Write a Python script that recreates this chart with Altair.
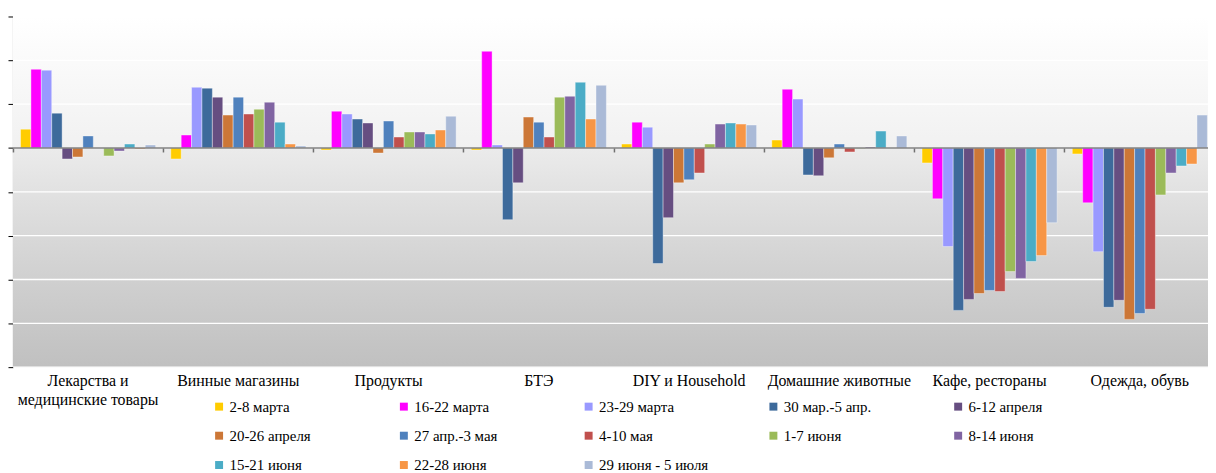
import altair as alt
import pandas as pd

categories = ["Лекарства и медицинские товары", "Винные магазины", "Продукты", "БТЭ",
              "DIY и Household", "Домашние животные", "Кафе, рестораны", "Одежда, обувь"]
series = ["2-8 марта", "16-22 марта", "23-29 марта", "30 мар.-5 апр.", "6-12 апреля",
          "20-26 апреля", "27 апр.-3 мая", "4-10 мая", "1-7 июня", "8-14 июня",
          "15-21 июня", "22-28 июня", "29 июня - 5 июля"]
colors = ["#FFCC00", "#FF00FF", "#9999FF", "#3D6A9B", "#664E81", "#CC7737", "#4F81BD",
          "#C0504D", "#9BBB59", "#8064A2", "#4BACC6", "#F79646", "#AABAD7"]

vals_lek = [8.6, 35.9, 35.5, 15.9, -5.0, -4.1, 5.5, 0.0, -3.6, -1.4, 1.8, -0.5, 1.4]
vals_vino = [-5.0, 5.9, 27.7, 27.3, 23.2, 15.0, 23.2, 15.5, 17.7, 20.9, 11.8, 1.8, 0.9]
vals_prod = [-0.9, 16.8, 15.5, 13.2, 11.4, -2.3, 12.3, 5.0, 7.3, 7.3, 6.4, 8.2, 14.5]
vals_bte = [-0.9, 44.1, 1.4, -32.7, -15.9, 14.1, 11.8, 5.0, 23.2, 23.6, 30.0, 13.2, 28.6]
vals_diy = [1.8, 11.8, 9.5, -52.7, -31.8, -15.9, -14.5, -11.4, 1.8, 10.9, 11.4, 10.9, 10.5]
vals_pets = [3.6, 26.8, 22.3, -12.3, -12.7, -4.5, 1.8, -1.8, -0.2, 0.5, 7.7, 0.0, 5.5]
vals_cafe = [-6.8, -23.2, -45.0, -74.1, -69.1, -66.4, -65.0, -65.5, -56.4, -59.5, -51.8, -49.1, -34.1]
vals_odezhda = [-2.7, -25.0, -47.3, -72.7, -69.5, -78.2, -75.5, -73.6, -21.4, -11.4, -8.2, -7.3, 15.0]

y_ticks = [-100, -80, -60, -40, -20, 0, 20, 40, 60]

all_vals = [vals_lek, vals_vino, vals_prod, vals_bte, vals_diy, vals_pets, vals_cafe, vals_odezhda]
rows = []
for cat, vals in zip(categories, all_vals):
    for s, v in zip(series, vals):
        rows.append({"cat": cat, "series": s, "value": v})
df = pd.DataFrame(rows)

W, H = 1203, 353          # visible plot area (cut at the window edge)
X_RANGE = 1210            # full extent of the 8 category bands
Y_MIN, Y_MAX = -100, 60
zero_px = H * Y_MAX / (Y_MAX - Y_MIN)
zero_offset = -(H - zero_px)
zf = zero_px / H

FONT = "'Liberation Serif', 'Times New Roman', Times, serif"

yscale = alt.Scale(domain=[Y_MIN, Y_MAX], nice=False)
yaxis = alt.Axis(title=None, values=y_ticks, labels=False, grid=False,
                 ticks=True, tickSize=5, tickColor="black",
                 domainColor="black", domainWidth=1)

bg = alt.Chart(pd.DataFrame({"k": [0]})).mark_rect(
    fill=alt.Gradient(
        gradient="linear", x1=0, x2=0, y1=0, y2=1,
        stops=[
            alt.GradientStop(color="#ffffff", offset=0),
            alt.GradientStop(color="#f1f1f1", offset=zf - 0.002),
            alt.GradientStop(color="#ebebeb", offset=zf + 0.002),
            alt.GradientStop(color="#e0e0e0", offset=0.52),
            alt.GradientStop(color="#cfcfcf", offset=0.76),
            alt.GradientStop(color="#c0c0c0", offset=1),
        ],
    )
).encode(x=alt.value(0), x2=alt.value(W), y=alt.value(0), y2=alt.value(H))

grid = alt.Chart(pd.DataFrame({"value": y_ticks})).mark_rule(
    color="white", strokeWidth=1.3
).encode(y=alt.Y("value:Q", scale=yscale, axis=yaxis))

label_expr = ("datum.value == 'Лекарства и медицинские товары' ? "
              "['Лекарства и', 'медицинские товары'] : datum.label")

bars = alt.Chart(df).mark_bar(
    stroke="white", strokeWidth=0.7, strokeOpacity=0.55, clip=True
).encode(
    x=alt.X("cat:N", sort=categories,
            scale=alt.Scale(paddingInner=0, paddingOuter=0, range=[0, X_RANGE]),
            axis=alt.Axis(title=None, orient="bottom", offset=zero_offset,
                          bandPosition=0, ticks=True, tickSize=4,
                          tickColor="#707070", tickWidth=1.5, domain=False,
                          labelPadding=-zero_offset + 1, labelExpr=label_expr,
                          labelLineHeight=20, labelFont=FONT, labelFontSize=16,
                          labelColor="black", labelAngle=0, labelOverlap=False,
                          labelLimit=400, zindex=1)),
    xOffset=alt.XOffset("series:N", sort=series,
                        scale=alt.Scale(paddingInner=0, paddingOuter=0.73)),
    y=alt.Y("value:Q", scale=yscale, axis=yaxis),
    color=alt.Color("series:N", sort=series,
                    scale=alt.Scale(domain=series, range=colors),
                    legend=alt.Legend(title=None, orient="none", legendX=200, legendY=385,
                                      direction="horizontal",
                                      columns=5, gridAlign="all", columnPadding=58,
                                      rowPadding=13.5, symbolType="square",
                                      symbolSize=64, symbolStrokeWidth=0,
                                      labelFont=FONT, labelFontSize=15,
                                      labelColor="black", labelOffset=3,
                                      labelLimit=400)),
)

zero_line = alt.Chart(pd.DataFrame({"z": [0]})).mark_rule(
    color="#7f7f7f", strokeWidth=1.6
).encode(y=alt.Y("z:Q", scale=yscale, axis=yaxis))

chart = alt.layer(bg, grid, bars, zero_line).properties(
    width=W, height=H,
    autosize=alt.AutoSizeParams(type="none"),
    padding={"left": 5, "top": 7, "right": 0, "bottom": 105},
).configure_view(stroke="transparent")

chart.save("out.html", embed_options={"renderer": "svg", "actions": False})
